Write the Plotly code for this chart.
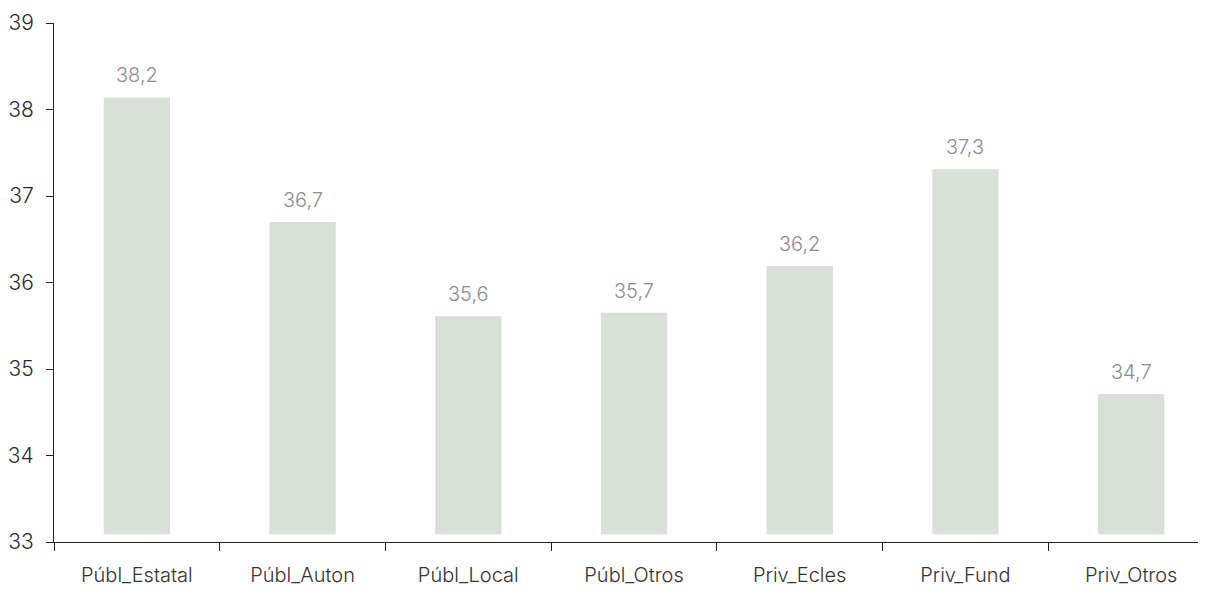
import plotly.graph_objects as go

categories = ["Públ_Estatal", "Públ_Auton", "Públ_Local", "Públ_Otros", "Priv_Ecles", "Priv_Fund", "Priv_Otros"]
values = [38.14, 36.70, 35.61, 35.65, 36.19, 37.31, 34.71]
labels = ["38,2", "36,7", "35,6", "35,7", "36,2", "37,3", "34,7"]
base_value = 33.09
y_ticks = [33, 34, 35, 36, 37, 38, 39]

FONT = "Inter"

fig = go.Figure()
fig.add_trace(go.Bar(
    x=categories,
    y=[v - base_value for v in values],
    base=base_value,
    width=0.4,
    marker=dict(color="#d9e0d8", line=dict(width=0)),
    hoverinfo="skip",
))

for c, v, t in zip(categories, values, labels):
    fig.add_annotation(x=c, y=v, text=t, showarrow=False, yanchor="bottom", yshift=8,
                       font=dict(family=FONT, size=20, color="#8c8c8c", weight=300))

fig.update_layout(
    width=1206, height=591,
    margin=dict(l=46, r=0, t=15, b=57),
    paper_bgcolor="white", plot_bgcolor="white",
    showlegend=False,
    font=dict(family=FONT, size=20, color="#333333"),
)
fig.update_xaxes(
    range=[-0.5, 6.5],
    showline=True, linecolor="#222222", linewidth=1,
    ticks="outside", ticklen=8, tickcolor="#222222", tickson="boundaries",
    showgrid=False, zeroline=False,
    ticklabelstandoff=15,
    tickfont=dict(family=FONT, size=20, color="#333333", weight=300),
)
fig.update_yaxes(
    range=[33, 39], tickvals=y_ticks,
    showline=True, linecolor="#222222", linewidth=1,
    ticks="outside", ticklen=7, tickcolor="#222222",
    showgrid=False, zeroline=False,
    ticklabelstandoff=8,
    tickfont=dict(family=FONT, size=21, color="#2a2a2a", weight=300),
)

fig.write_html("out.html")
